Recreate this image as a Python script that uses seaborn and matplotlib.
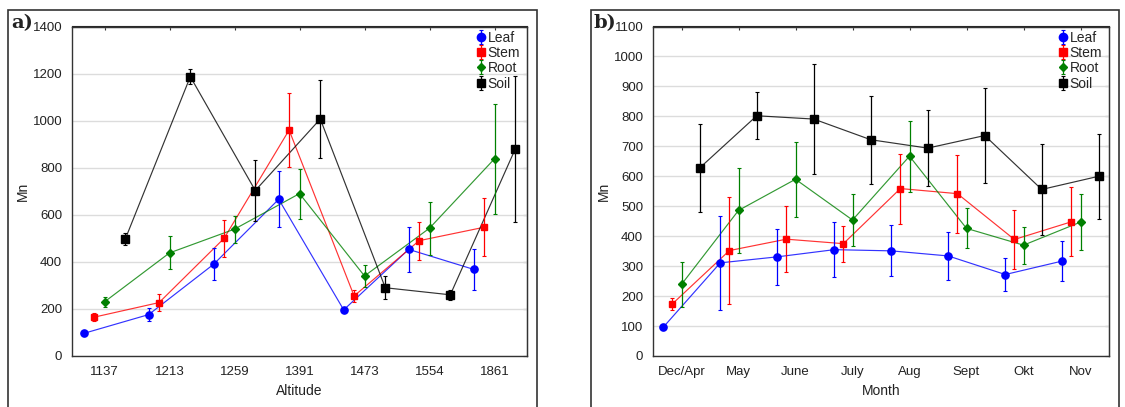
import numpy as np
import pandas as pd
import matplotlib
matplotlib.use('Agg')
import matplotlib.pyplot as plt
from matplotlib.patches import Rectangle
import seaborn as sns

# ------------------------------------------------
# Data
# ------------------------------------------------
tissues = ['Leaf', 'Stem', 'Root', 'Soil']
altitudes = ['1137', '1213', '1259', '1391', '1473', '1554', '1861']
months = ['Dec/Apr', 'May', 'June', 'July', 'Aug', 'Sept', 'Okt', 'Nov']

# a) Mn by altitude: means and half-widths of the error bars
alt_leaf = [96, 176, 390, 666, 196, 453, 368]
alt_leaf_err = [10, 27, 68, 118, 8, 95, 88]
alt_stem = [165, 227, 500, 960, 255, 490, 547]
alt_stem_err = [18, 36, 78, 157, 26, 80, 124]
alt_root = [230, 438, 539, 690, 340, 543, 838]
alt_root_err = [20, 70, 57, 106, 47, 112, 234]
alt_soil = [497, 1187, 703, 1007, 290, 260, 880]
alt_soil_err = [25, 33, 130, 166, 49, 20, 310]

# b) Mn by month
mon_leaf = [96, 311, 331, 355, 351, 334, 272, 317]
mon_leaf_err = [10, 158, 94, 92, 85, 80, 54, 67]
mon_stem = [174, 352, 390, 375, 559, 542, 389, 448]
mon_stem_err = [20, 180, 111, 60, 117, 130, 98, 115]
mon_root = [239, 486, 590, 454, 667, 426, 370, 447]
mon_root_err = [75, 142, 125, 88, 119, 67, 62, 94]
mon_soil = [628, 802, 791, 722, 694, 736, 556, 600]
mon_soil_err = [148, 79, 183, 147, 128, 158, 152, 142]

# ------------------------------------------------
# Styling
# ------------------------------------------------
sns.set_style('white')
plt.rcParams['font.family'] = ['Liberation Sans', 'DejaVu Sans']

colors = {'Leaf': '#0000ff', 'Stem': '#ff0000', 'Root': '#008000', 'Soil': '#000000'}
markers = {'Leaf': 'o', 'Stem': 's', 'Root': 'D', 'Soil': 's'}
msizes = {'Leaf': 5.2, 'Stem': 4.6, 'Root': 3.6, 'Soil': 5.2}
offsets = {'Leaf': -0.32, 'Stem': -0.16, 'Root': 0.0, 'Soil': 0.32}


def make_frame(cats, series):
    rows = []
    for name, (vals, errs) in zip(tissues, series):
        for i, (v, e) in enumerate(zip(vals, errs)):
            rows.append({'tissue': name, 'cat': cats[i], 'pos': i + offsets[name],
                         'Mn': v, 'err': e})
    return pd.DataFrame(rows)


def draw_panel(ax, df, cats, ymax, ystep, xlabel):
    sns.lineplot(data=df, x='pos', y='Mn', hue='tissue', palette=colors,
                 estimator=None, sort=True, legend=False, linewidth=0.85,
                 alpha=0.8, ax=ax, zorder=2)
    for name in tissues:
        d = df[df['tissue'] == name]
        ax.errorbar(d['pos'], d['Mn'], yerr=d['err'], fmt=markers[name],
                    color=colors[name], ms=msizes[name], elinewidth=0.9,
                    capsize=1.6, capthick=0.8, label=name, zorder=3)

    ax.set_xlim(-0.5, len(cats) - 0.5)
    ax.set_ylim(0, ymax)
    ax.set_xticks(range(len(cats)))
    ax.set_xticklabels(cats)
    ax.set_yticks(np.arange(0, ymax + 1, ystep))
    ax.yaxis.grid(True, color='#dcdcdc', lw=1)
    ax.set_axisbelow(True)
    ax.tick_params(axis='both', direction='out', length=3, labelsize=9.5,
                   colors='#222222', pad=4)
    for s in ax.spines.values():
        s.set_color('#333333')
        s.set_linewidth(1)

    # inner ticks on top / right
    top = ax.secondary_xaxis('top')
    top.set_xticks(range(len(cats)))
    top.set_xticklabels([])
    top.tick_params(direction='in', length=3, colors='#333333')
    right = ax.secondary_yaxis('right')
    right.set_yticks(np.arange(0, ymax + 1, ystep))
    right.set_yticklabels([])
    right.tick_params(direction='in', length=3, colors='#333333')

    ax.set_xlabel(xlabel, fontsize=10, color='#222222')
    ax.set_ylabel('Mn', fontsize=10, color='#222222')
    ax.xaxis.set_label_coords(0.5, -0.085)
    ax.yaxis.set_label_coords(-0.093, 0.5)

    ax.legend(loc='upper right', bbox_to_anchor=(1 - 7 / 455, 1 - 4 / 329),
              frameon=False, fontsize=10, handlelength=0.9,
              handletextpad=0.05, labelspacing=0.1, borderpad=0.0,
              borderaxespad=0.0, markerscale=1.15)


alt_df = make_frame(altitudes, [(alt_leaf, alt_leaf_err), (alt_stem, alt_stem_err),
                                (alt_root, alt_root_err), (alt_soil, alt_soil_err)])
mon_df = make_frame(months, [(mon_leaf, mon_leaf_err), (mon_stem, mon_stem_err),
                             (mon_root, mon_root_err), (mon_soil, mon_soil_err)])

W, H = 1125, 407
fig = plt.figure(figsize=(W / 100, H / 100), dpi=100)

ax_a = fig.add_axes([72 / W, 51 / H, 455 / W, 329.5 / H])
ax_b = fig.add_axes([653 / W, 51 / H, 456 / W, 329.5 / H])

draw_panel(ax_a, alt_df, altitudes, 1400, 200, 'Altitude')
draw_panel(ax_b, mon_df, months, 1100, 100, 'Month')

# panel frames and letters
for x0, x1, letter, lx in [(8, 537, 'a)', 11), (591, 1119, 'b)', 594)]:
    fig.add_artist(Rectangle((x0 / W, -0.05), (x1 - x0) / W, 1.05 - 10 / H,
                             transform=fig.transFigure, fill=False,
                             ec='#333333', lw=1.2))
    fig.text(lx / W, 1 - 23 / H, letter, fontsize=14, fontweight='bold',
             family='DejaVu Serif', va='center', ha='left', color='#222222')

fig.savefig('out.png', dpi=100)
